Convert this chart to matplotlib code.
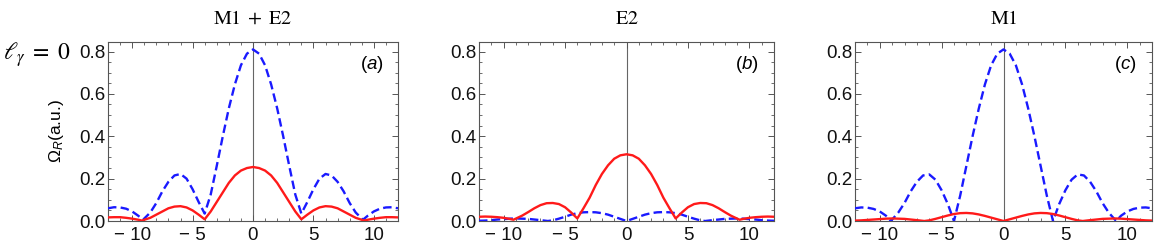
import matplotlib
matplotlib.use("Agg")
import matplotlib.pyplot as plt
from matplotlib.ticker import MultipleLocator

plt.rcParams['font.family'] = ['Liberation Sans', 'DejaVu Sans']
plt.rcParams['mathtext.fontset'] = 'custom'
plt.rcParams['mathtext.rm'] = 'Liberation Sans'
plt.rcParams['mathtext.it'] = 'Liberation Sans:italic'

# ---------------- data ----------------
titles = [r"$\mathrm{M1}\;+\;\mathrm{E2}$", r"$\mathrm{E2}$", r"$\mathrm{M1}$"]
panel_letters = ["a", "b", "c"]
x_ticks = [-10, -5, 0, 5, 10]
y_ticks = [0.0, 0.2, 0.4, 0.6, 0.8]

# grid with minima at +-4.0 and +-9.1
x_blue_a = [-12, -11.5, -11, -10.5, -10, -9.5, -9.1, -8.5, -8, -7.5, -7, -6.5, -6, -5.5, -5, -4.5, -4.0,
            -3.5, -3, -2.5, -2, -1.5, -1, -0.5, 0, 0.5, 1, 1.5, 2, 2.5, 3, 3.5, 4.0,
            4.5, 5, 5.5, 6, 6.5, 7, 7.5, 8, 8.5, 9.1, 9.5, 10, 10.5, 11, 11.5, 12]
blue_a = [0.060, 0.065, 0.064, 0.058, 0.045, 0.025, 0.006, 0.040, 0.085, 0.140, 0.185, 0.215, 0.222, 0.200, 0.150, 0.090, 0.035,
          0.125, 0.260, 0.400, 0.532, 0.645, 0.735, 0.790, 0.810, 0.790, 0.735, 0.645, 0.532, 0.400, 0.260, 0.125, 0.035,
          0.090, 0.150, 0.200, 0.222, 0.215, 0.185, 0.140, 0.085, 0.040, 0.006, 0.025, 0.045, 0.058, 0.064, 0.065, 0.060]

x_red_a = [-12, -11.5, -11, -10.5, -10, -9.5, -9.2, -8.5, -8, -7.5, -7, -6.5, -6, -5.5, -5, -4.5, -4.0,
           -3.5, -3, -2.5, -2, -1.5, -1, -0.5, 0, 0.5, 1, 1.5, 2, 2.5, 3, 3.5, 4.0,
           4.5, 5, 5.5, 6, 6.5, 7, 7.5, 8, 8.5, 9.2, 9.5, 10, 10.5, 11, 11.5, 12]
red_a = [0.017, 0.018, 0.018, 0.015, 0.011, 0.006, 0.002, 0.015, 0.030, 0.045, 0.060, 0.068, 0.070, 0.064, 0.050, 0.030, 0.008,
         0.045, 0.090, 0.135, 0.180, 0.215, 0.238, 0.250, 0.255, 0.250, 0.238, 0.215, 0.180, 0.135, 0.090, 0.045, 0.008,
         0.030, 0.050, 0.064, 0.070, 0.068, 0.060, 0.045, 0.030, 0.015, 0.002, 0.006, 0.011, 0.015, 0.018, 0.018, 0.017]

x_red_b = x_red_a
red_b = [0.020, 0.021, 0.020, 0.018, 0.015, 0.010, 0.006, 0.025, 0.042, 0.060, 0.075, 0.084, 0.085, 0.080, 0.065, 0.040, 0.012,
         0.060, 0.110, 0.170, 0.222, 0.263, 0.294, 0.310, 0.315, 0.310, 0.294, 0.263, 0.222, 0.170, 0.110, 0.060, 0.012,
         0.040, 0.065, 0.080, 0.085, 0.084, 0.075, 0.060, 0.042, 0.025, 0.006, 0.010, 0.015, 0.018, 0.020, 0.021, 0.020]

x_small = [-12, -11.5, -11, -10.5, -10, -9.5, -9, -8.5, -8, -7.5, -7, -6.4, -6, -5.5, -5, -4.5, -4,
           -3.5, -3, -2.5, -2, -1.5, -1, -0.5, 0, 0.5, 1, 1.5, 2, 2.5, 3, 3.5, 4,
           4.5, 5, 5.5, 6, 6.4, 7, 7.5, 8, 8.5, 9, 9.5, 10, 10.5, 11, 11.5, 12]
blue_b = [0.001, 0.002, 0.004, 0.007, 0.009, 0.011, 0.012, 0.011, 0.010, 0.007, 0.004, 0.000, 0.003, 0.011, 0.020, 0.030, 0.037,
          0.041, 0.042, 0.041, 0.037, 0.030, 0.020, 0.010, 0.000, 0.010, 0.020, 0.030, 0.037, 0.041, 0.042, 0.041, 0.037,
          0.030, 0.020, 0.011, 0.003, 0.000, 0.004, 0.007, 0.010, 0.011, 0.012, 0.011, 0.009, 0.007, 0.004, 0.002, 0.001]

x_blue_c = x_blue_a
blue_c = [0.060, 0.064, 0.063, 0.057, 0.045, 0.025, 0.000, 0.040, 0.085, 0.140, 0.185, 0.215, 0.220, 0.195, 0.145, 0.080, 0.000,
          0.120, 0.260, 0.400, 0.530, 0.645, 0.735, 0.790, 0.810, 0.790, 0.735, 0.645, 0.530, 0.400, 0.260, 0.120, 0.000,
          0.080, 0.145, 0.195, 0.220, 0.215, 0.185, 0.140, 0.085, 0.040, 0.000, 0.025, 0.045, 0.057, 0.063, 0.064, 0.060]

red_c = [0.002, 0.003, 0.005, 0.007, 0.009, 0.011, 0.012, 0.011, 0.010, 0.007, 0.004, 0.000, 0.003, 0.010, 0.018, 0.026, 0.033,
         0.037, 0.038, 0.036, 0.031, 0.024, 0.016, 0.008, 0.000, 0.008, 0.016, 0.024, 0.031, 0.036, 0.038, 0.037, 0.033,
         0.026, 0.018, 0.010, 0.003, 0.000, 0.004, 0.007, 0.010, 0.011, 0.012, 0.011, 0.009, 0.007, 0.005, 0.003, 0.002]

panels = [
    ((x_red_a, red_a), (x_blue_a, blue_a)),
    ((x_red_b, red_b), (x_small, blue_b)),
    ((x_small, red_c), (x_blue_c, blue_c)),
]

# ---------------- figure ----------------
W, H = 1154, 248
fig = plt.figure(figsize=(W / 100, H / 100), dpi=100)
boxes = [(108, 398), (479, 774), (855, 1152)]
top_px, bot_px = 42, 221

red = "#ff1a1a"
blue = "#1a1aff"
frame = "#555555"

for i, ((xr, yr), (xb, yb)) in enumerate(panels):
    l, r = boxes[i]
    ax = fig.add_axes([l / W, 1 - bot_px / H, (r - l) / W, (bot_px - top_px) / H])
    ax.axvline(0, color="#666666", lw=0.8, zorder=1)
    ax.plot(xb, yb, color=blue, lw=1.7, ls=(0, (3.6, 1.8)), zorder=3, clip_on=True)
    ax.plot(xr, yr, color=red, lw=1.7, zorder=4, clip_on=True)
    ax.set_xlim(-12, 12)
    ax.set_ylim(0, 0.845)
    ax.set_xticks(x_ticks)
    ax.set_yticks(y_ticks)
    ax.set_xticklabels([f"{t}".replace("-", "\u2212 ") for t in x_ticks])
    ax.set_yticklabels([f"{t:.1f}" for t in y_ticks])
    ax.xaxis.set_minor_locator(MultipleLocator(1))
    ax.yaxis.set_minor_locator(MultipleLocator(0.05))
    ax.tick_params(which="both", direction="in", top=True, right=True,
                   color=frame, labelsize=13.5, labelcolor="#111111")
    ax.tick_params(which="major", length=4, width=0.7)
    ax.tick_params(which="minor", length=2, width=0.6)
    ax.tick_params(axis="x", pad=4)
    ax.tick_params(axis="y", pad=2)
    for s in ax.spines.values():
        s.set_color(frame)
        s.set_linewidth(0.8)
    ax.set_title(titles[i], fontsize=14.5, pad=13, math_fontfamily="stix")
    ax.text(0.95, 0.875, "(" + r"$\mathit{" + panel_letters[i] + "}$" + ")",
            transform=ax.transAxes, ha="right", va="center", fontsize=13.5)
    if i == 0:
        ax.set_ylabel(r"$\Omega_R$(a.u.)", fontsize=12.5)
        ax.yaxis.set_label_coords(-0.145, 0.5)

fig.text(3 / W, 1 - 55 / H, r"$\ell_\gamma\;=\;0$", fontsize=17, ha="left", va="center",
         math_fontfamily="stix")

fig.savefig("out.png", dpi=100)
